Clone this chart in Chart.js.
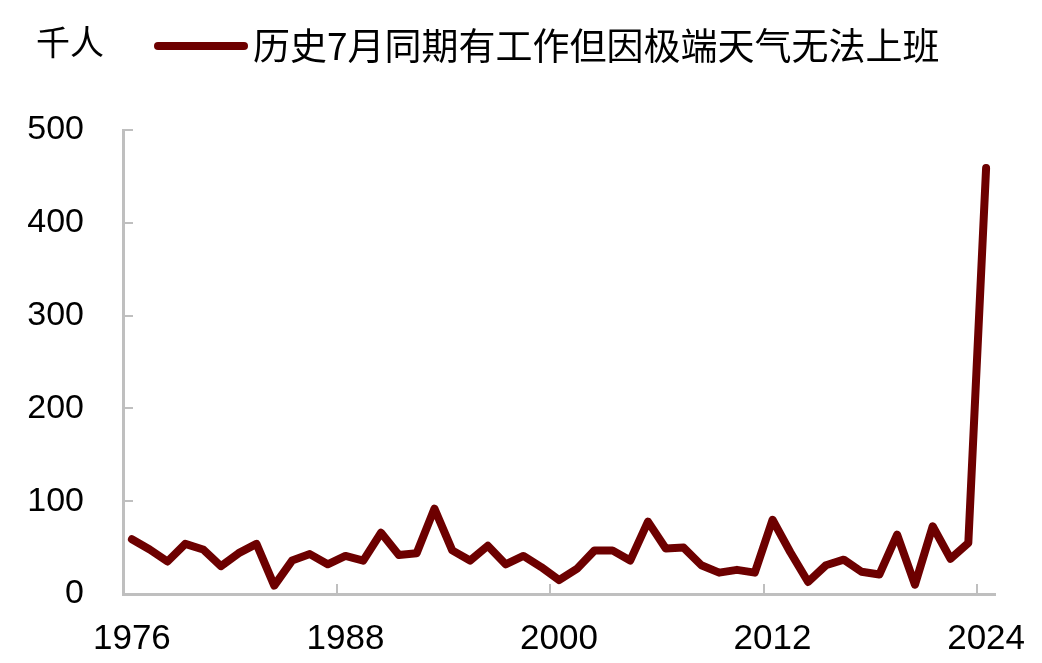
<!DOCTYPE html>
<html>
<head>
<meta charset="utf-8">
<script src="https://cdn.jsdelivr.net/npm/chart.js@4/dist/chart.umd.min.js"></script>
<style>
  html, body { margin: 0; padding: 0; background: #fff; }
  #wrap { width: 1042px; height: 663px; position: relative; }
</style>
</head>
<body>
<div id="wrap"><canvas id="chart"></canvas></div>
<script>
// years 1976..2024
var years = ["1976","1977","1978","1979","1980","1981","1982","1983","1984","1985",
  "1986","1987","1988","1989","1990","1991","1992","1993","1994","1995",
  "1996","1997","1998","1999","2000","2001","2002","2003","2004","2005",
  "2006","2007","2008","2009","2010","2011","2012","2013","2014","2015",
  "2016","2017","2018","2019","2020","2021","2022","2023","2024"];
var values = [59, 48, 35, 54, 48, 30, 44, 54, 9, 36,
  43, 32, 41, 36, 66, 42, 44, 92, 47, 36,
  52, 32, 41, 29, 15, 27, 47, 47, 36, 78,
  49, 50, 31, 23, 26, 23, 80, 45, 13, 31,
  37, 24, 21, 64, 10, 73, 38, 55, 459];
var seriesName = "历史7月同期有工作但因极端天气无法上班";
var unitLabel = "千人";
var yTicks = [0, 100, 200, 300, 400, 500];

var lineColor = "#6d0000";
var axisColor = "#bfbfbf";
var numFont = "'Liberation Sans', Arial, sans-serif";
var cjkFont = "'Noto Sans CJK SC', 'Noto Sans', sans-serif";

// header: unit text + legend line + series name
var header = {
  id: 'header',
  afterDraw: function (chart) {
    var ctx = chart.ctx;
    ctx.save();
    ctx.fillStyle = "#000";
    ctx.textBaseline = "middle";
    ctx.font = "34px " + cjkFont;
    ctx.fillText(unitLabel, 36, 42);
    ctx.strokeStyle = lineColor;
    ctx.lineWidth = 8;
    ctx.lineCap = "round";
    ctx.beginPath();
    ctx.moveTo(158, 46);
    ctx.lineTo(244, 46);
    ctx.stroke();
    ctx.font = "37px " + cjkFont;
    ctx.fillText(chart.data.datasets[0].label, 253, 46);
    ctx.restore();
  }
};

// inward tick marks like the original
var innerTicks = {
  id: 'innerTicks',
  afterDatasetsDraw: function (chart) {
    var ctx = chart.ctx;
    var x = chart.scales.x, y = chart.scales.y;
    var half = (x.getPixelForValue(1) - x.getPixelForValue(0)) / 2;
    ctx.save();
    ctx.strokeStyle = axisColor;
    ctx.lineWidth = 2;
    ctx.beginPath();
    for (var i = 12; i < years.length; i += 12) {
      var px = Math.round(x.getPixelForValue(i) - half);
      ctx.moveTo(px, y.bottom);
      ctx.lineTo(px, y.bottom - 10);
    }
    for (var j = 1; j < yTicks.length; j++) {
      var py = Math.round(y.getPixelForValue(yTicks[j]));
      ctx.moveTo(x.left, py);
      ctx.lineTo(x.left + 10, py);
    }
    ctx.stroke();
    ctx.restore();
  }
};

var chart = new Chart(document.getElementById("chart"), {
  type: "line",
  data: {
    labels: years,
    datasets: [{
      label: seriesName,
      data: values,
      borderColor: lineColor,
      backgroundColor: lineColor,
      borderWidth: 8,
      pointRadius: 0,
      tension: 0,
      borderCapStyle: "round",
      borderJoinStyle: "round"
    }]
  },
  options: {
    responsive: true,
    maintainAspectRatio: false,
    animation: false,
    layout: { padding: { top: 130, right: 47, left: 0, bottom: 0 } },
    plugins: {
      legend: { display: false },
      tooltip: { enabled: false }
    },
    scales: {
      x: {
        type: "category",
        offset: true,
        grid: { display: false, offset: true },
        border: { display: true, color: axisColor, width: 3 },
        ticks: {
          autoSkip: false,
          maxRotation: 0,
          padding: 16,
          color: "#000",
          font: { family: numFont, size: 35 },
          callback: function (v, i) { return i % 12 === 0 ? years[i] : ""; }
        },
        afterFit: function (s) { s.height = 69; }
      },
      y: {
        min: 0,
        max: 500,
        afterBuildTicks: function (s) { s.ticks = yTicks.map(function (v) { return { value: v }; }); },
        grid: { display: false },
        border: { display: true, color: axisColor, width: 3 },
        ticks: {
          padding: 31,
          color: "#000",
          font: { family: numFont, size: 34 }
        },
        afterFit: function (s) { s.width = 123; }
      }
    }
  },
  plugins: [header, innerTicks]
});
</script>
</body>
</html>
